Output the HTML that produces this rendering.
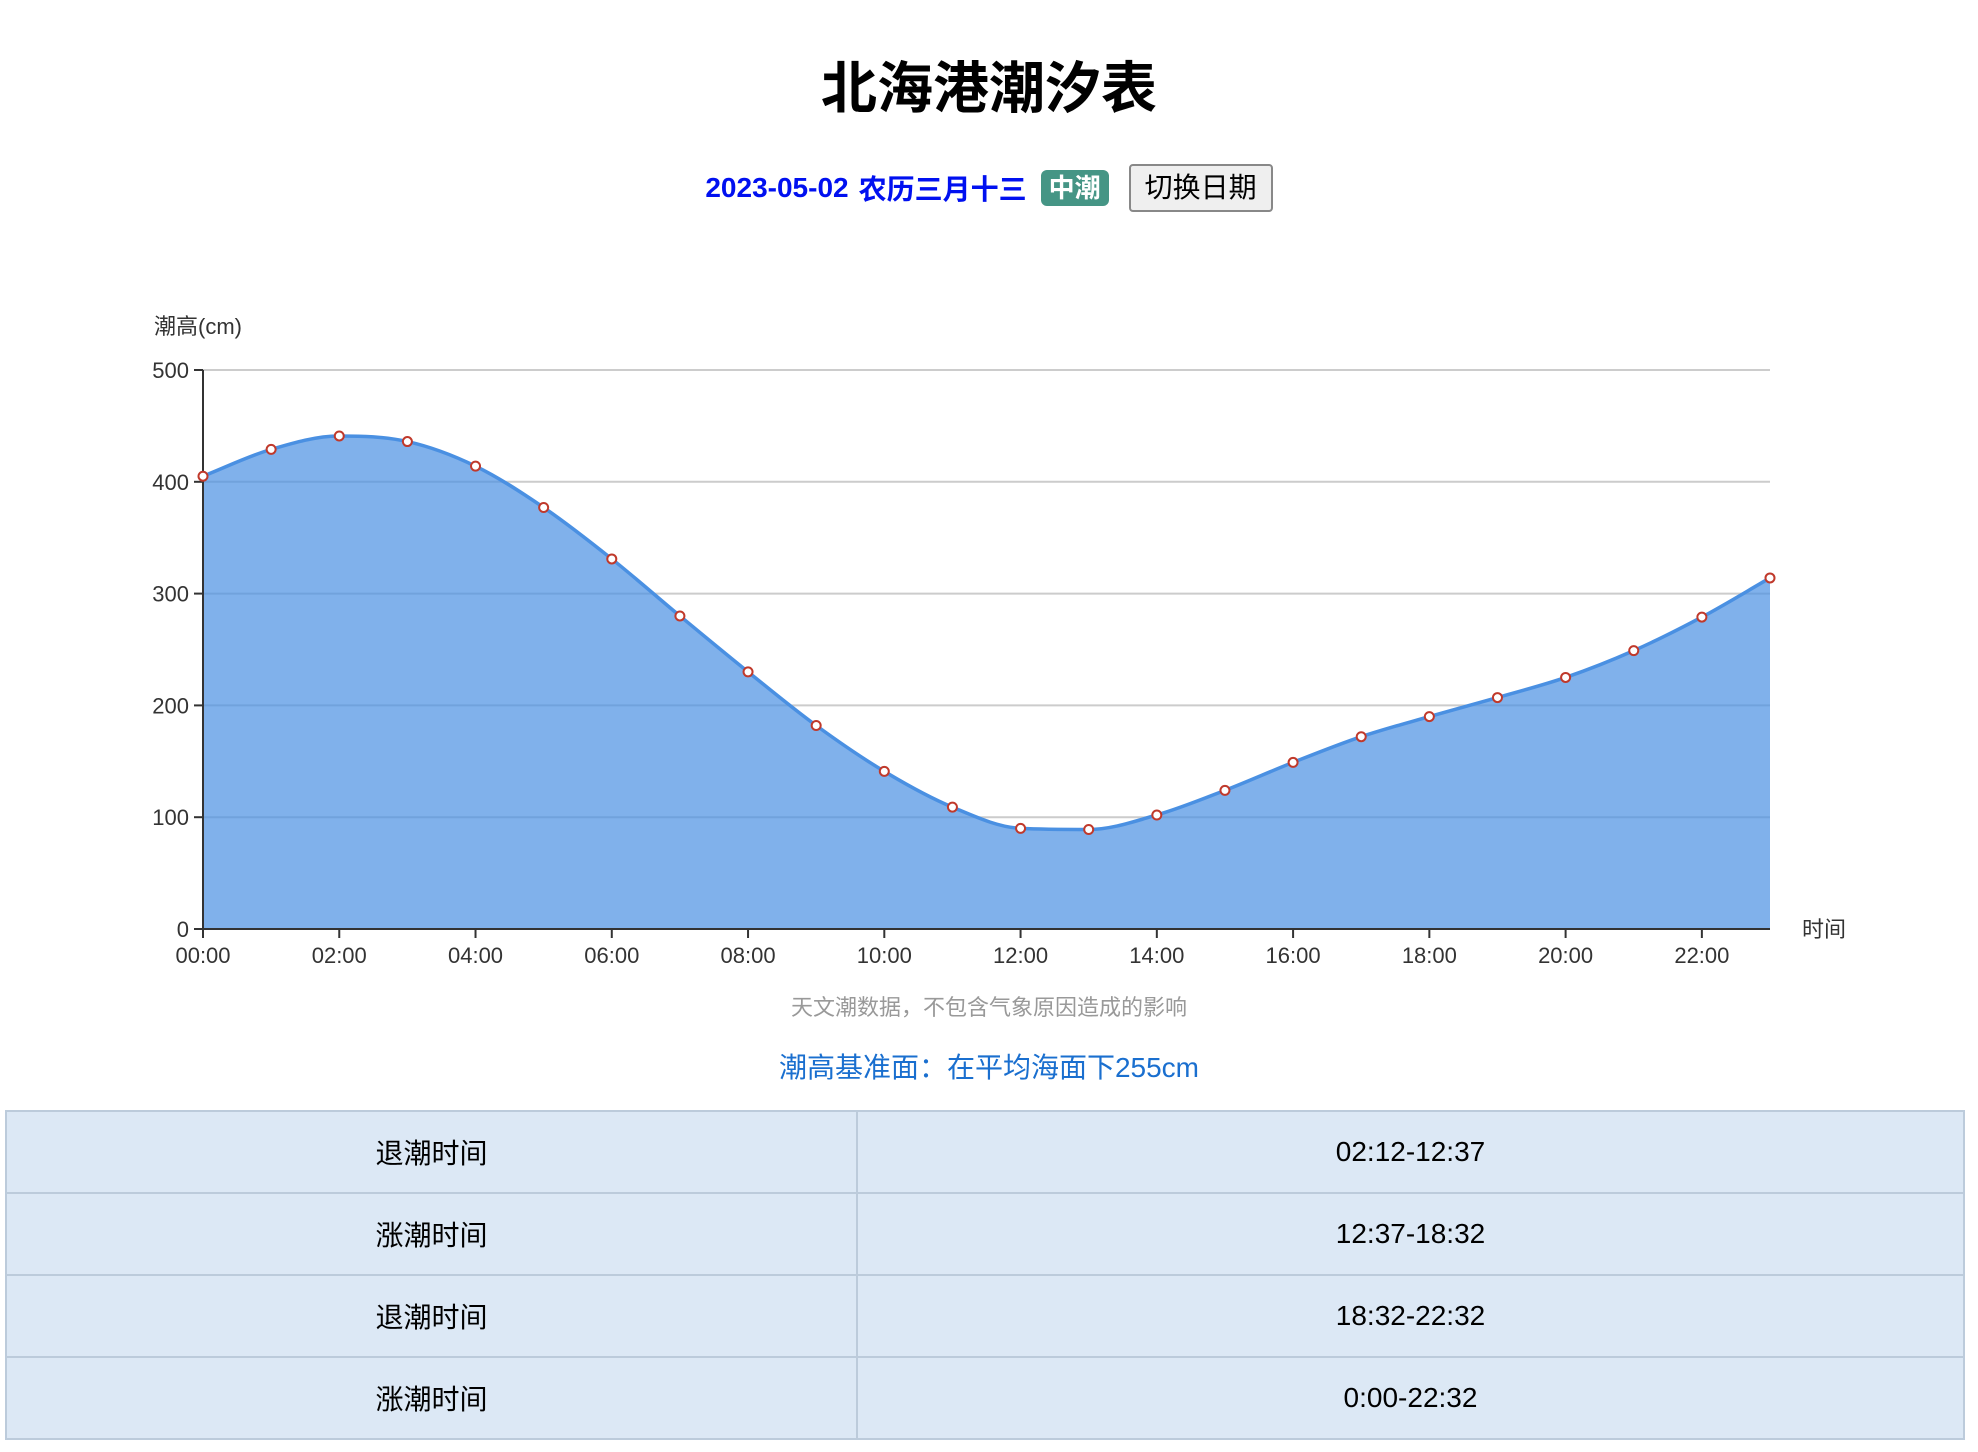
<!DOCTYPE html>
<html><head><meta charset="utf-8">
<style>
body{margin:0;width:1978px;height:1452px;background:#fff;font-family:"Liberation Sans","Noto Sans CJK SC",sans-serif;position:relative;overflow:hidden}
.abs{position:absolute}
#title{left:0;width:1978px;top:52px;text-align:center;font-size:56px;font-weight:bold;color:#000;line-height:74px}
#sub{left:0;width:1978px;top:164px;height:48px;display:flex;justify-content:center;align-items:center;font-size:28px}
#date{color:#0010f0;font-weight:bold;margin-right:10px}
#lunar{color:#0010f0;font-weight:bold}
#badge{background:#459585;color:#fff;font-weight:bold;border-radius:6px;padding:2px 8px;margin:0 20px 0 14px;font-size:26px;line-height:32px}
#btn{border:2px solid #888;background:#efefef;border-radius:4px;font-size:28px;padding:4px 14px;line-height:36px;font-family:inherit;color:#000}
#note{left:0;width:1978px;top:990px;text-align:center;color:#999;font-size:22px}
#base{left:0;width:1978px;top:1046px;text-align:center;color:#1a6fcf;font-size:28px}
table{position:absolute;left:5px;top:1110px;width:1960px;border-collapse:collapse;background:#dce8f5}
td{border:2px solid #bccbdb;height:80px;text-align:center;font-size:28px;color:#000;padding:0}
</style></head><body>
<div id="title" class="abs">北海港潮汐表</div>
<div id="sub" class="abs">
<span id="date">2023-05-02</span><span id="lunar">农历三月十三</span><span id="badge">中潮</span><button id="btn">切换日期</button>
</div>
<svg class="abs" style="left:0;top:0" width="1978" height="1452" id="chart">
<text x="154" y="334" font-size="22" fill="#333">潮高(cm)</text>
<text x="1802" y="937" font-size="22" fill="#333">时间</text>
</svg>
<div id="note" class="abs">天文潮数据，不包含气象原因造成的影响</div>
<div id="base" class="abs">潮高基准面：在平均海面下255cm</div>
<table>
<col style="width:851px"><col>
<tr><td>退潮时间</td><td>02:12-12:37</td></tr>
<tr><td>涨潮时间</td><td>12:37-18:32</td></tr>
<tr><td>退潮时间</td><td>18:32-22:32</td></tr>
<tr><td>涨潮时间</td><td>0:00-22:32</td></tr>
</table>
<script>
const hours=["00:00","01:00","02:00","03:00","04:00","05:00","06:00","07:00","08:00","09:00","10:00","11:00","12:00","13:00","14:00","15:00","16:00","17:00","18:00","19:00","20:00","21:00","22:00","23:00"];
const heights=[405,429,441,436,414,377,331,280,230,182,141,109,90,89,102,124,149,172,190,207,225,249,279,314];
const yTicks=[0,100,200,300,400,500];
const NS="http://www.w3.org/2000/svg";
const svg=document.getElementById('chart');
const X0=203,X1=1770,Y0=929,Y1=370,YMAX=500;
function xs(i){return X0+(X1-X0)*i/(hours.length-1);}
function ys(v){return Y0-(Y0-Y1)*v/YMAX;}
function mk(t,a){const e=document.createElementNS(NS,t);for(const k in a)e.setAttribute(k,a[k]);svg.appendChild(e);return e;}
yTicks.forEach(v=>{
 if(v>0){const g=mk('line',{x1:X0,x2:X1,y1:ys(v),y2:ys(v),stroke:'#ccc','stroke-width':2});
 
 }
 const tk=mk('line',{x1:X0-9,x2:X0,y1:ys(v),y2:ys(v),stroke:'#333','stroke-width':2});
 
 
 const t=mk('text',{x:X0-14,y:ys(v)+8,'text-anchor':'end','font-size':22,fill:'#333'});t.textContent=v;
 
 
});
const P=heights.map((v,i)=>[xs(i),ys(v)]);
// monotone cubic
const n=P.length,h=P[1][0]-P[0][0];
const s=[];for(let i=0;i<n-1;i++)s.push((P[i+1][1]-P[i][1])/h);
const m=[];
for(let i=0;i<n;i++){
 if(i==0)m.push(s[0]);else if(i==n-1)m.push(s[n-2]);
 else if(s[i-1]*s[i]<=0)m.push(0);
 else{const a=(s[i-1]+s[i])/2;const lim=3*Math.min(Math.abs(s[i-1]),Math.abs(s[i]));m.push(Math.sign(a)*Math.min(Math.abs(a),lim));}
}
let d='M'+P[0][0]+','+P[0][1];
for(let i=0;i<n-1;i++){
 d+=' C'+(P[i][0]+h/3)+','+(P[i][1]+m[i]*h/3)+' '+(P[i+1][0]-h/3)+','+(P[i+1][1]-m[i+1]*h/3)+' '+P[i+1][0]+','+P[i+1][1];
}
const area=mk('path',{d:d+' L'+X1+','+Y0+' L'+X0+','+Y0+' Z',fill:'#4a90e2','fill-opacity':0.7});


const line=mk('path',{d:d,fill:'none',stroke:'#4a90e2','stroke-width':3.5});


const ax=mk('line',{x1:X0,x2:X0,y1:Y1,y2:Y0,stroke:'#333','stroke-width':2});


const bx=mk('line',{x1:X0,x2:X1,y1:Y0,y2:Y0,stroke:'#333','stroke-width':2});


hours.forEach((h,i)=>{
 if(i%2==0){
 const tk=mk('line',{x1:xs(i),x2:xs(i),y1:Y0,y2:Y0+9,stroke:'#333','stroke-width':2});
 
 
 const t=mk('text',{x:xs(i),y:Y0+34,'text-anchor':'middle','font-size':22,fill:'#333'});t.textContent=h;
 
 }
});
P.forEach(p=>{
 const c=mk('circle',{cx:p[0],cy:p[1],r:4.5,fill:'#fff',stroke:'#c0392b','stroke-width':2});
 
 
});
</script>
</body></html>
